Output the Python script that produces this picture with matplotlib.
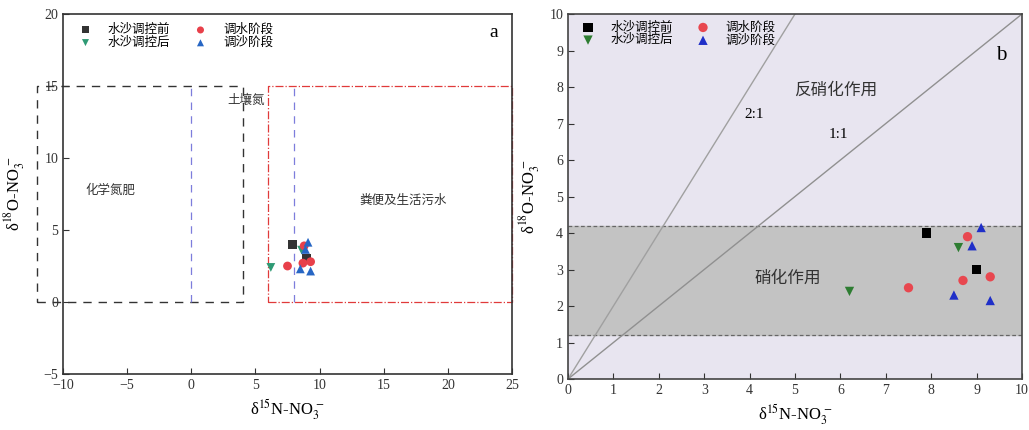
import numpy as np
import matplotlib
matplotlib.use("Agg")
from matplotlib import pyplot as plt

plt.rcParams['font.family'] = ['Liberation Serif', 'Noto Sans CJK SC', 'DejaVu Sans']
plt.rcParams['mathtext.fontset'] = 'stix'

# data: delta15N-NO3 (x) and delta18O-NO3 (y) per stage
groups = ['水沙调控前', '水沙调控后', '调水阶段', '调沙阶段']
n15_before = [7.9, 9.0]
o18_before = [4.0, 3.0]
n15_after = [6.2, 8.6]
o18_after = [2.4, 3.6]
n15_water = [7.5, 8.7, 9.3, 8.8]
o18_water = [2.5, 2.7, 2.8, 3.9]
n15_sand = [9.1, 8.9, 8.5, 9.3]
o18_sand = [4.15, 3.65, 2.3, 2.15]

series_x = [n15_before, n15_after, n15_water, n15_sand]
series_y = [o18_before, o18_after, o18_water, o18_sand]
markers = ['s', 'v', 'o', '^']
colors_a = ['#333333', '#2e9a74', '#e8404a', '#2766c4']
colors_b = ['#000000', '#2e7d32', '#e8474f', '#1f2fc8']

xlab = 'δ$^{15}$N-NO$_3^{\\,-}$'
ylab = 'δ$^{18}$O-NO$_3^{\\,-}$'

fig = plt.figure(figsize=(10.29, 4.30), dpi=100)
axa = fig.add_axes([0.0612, 0.1302, 0.4364, 0.8372])
axb = fig.add_axes([0.552, 0.1186, 0.4412, 0.8488])

# ---------- panel a ----------
# source boxes
axa.plot([-12, 4, 4, -12, -12], [0, 0, 15, 15, 0], ls=(0, (6, 5)), color='#333333', lw=1.0, clip_on=False)
axa.plot([0, 0], [0, 15], ls=(0, (6, 5)), color='#7d7ddc', lw=0.9)
axa.plot([8, 8], [0, 15], ls=(0, (6, 5)), color='#7d7ddc', lw=0.9)
axa.plot([6, 25, 25, 6, 6], [0, 0, 15, 15, 0], ls='-.', color='#e03a3a', lw=0.9, clip_on=False)
for x, y, c, m, g in zip(series_x, series_y, colors_a, markers, groups):
    axa.scatter(x, y, marker=m, s=40, color=c, label=g, zorder=5, edgecolors='none')
axa.text(-6.3, 7.7, '化学氮肥', fontsize=9, ha='center', va='center', color='#333333')
axa.text(4.3, 14.0, '土壤氮', fontsize=9, ha='center', va='center', color='#333333')
axa.text(16.5, 7.0, '粪便及生活污水', fontsize=9, ha='center', va='center', color='#333333')
axa.text(23.6, 18.7, 'a', fontsize=14, ha='center', va='center')
axa.set_xlim(-10, 25)
axa.set_ylim(-5, 20)
axa.set_xticks(np.arange(-10, 26, 5))
axa.set_yticks(np.arange(-5, 21, 5))
axa.set_xticklabels(['−10', '−5', '0', '5', '10', '15', '20', '25'])
axa.set_yticklabels(['−5', '0', '5', '10', '15', '20'])
axa.tick_params(direction='in', labelsize=10, length=4, colors='#333333')
axa.set_xlabel(xlab, fontsize=12, labelpad=4)
axa.set_ylabel(ylab, fontsize=12, labelpad=12)
axa.legend(loc='upper left', ncol=2, frameon=False, fontsize=9, handletextpad=0.8,
           columnspacing=1.4, labelspacing=0.05, borderaxespad=0.4, markerscale=0.8)
for s in axa.spines.values():
    s.set_color('#333333')
    s.set_linewidth(1.2)

# ---------- panel b ----------
axb.set_facecolor('#e8e5f0')
axb.axhspan(1.2, 4.2, color='#c3c3c3', zorder=0)
axb.axhline(4.2, ls=(0, (3, 2)), color='#666666', lw=0.9, zorder=1)
axb.axhline(1.2, ls=(0, (3, 2)), color='#666666', lw=0.9, zorder=1)
xs = np.array([0, 10])
axb.plot(xs, 2 * xs, color='#a0a0a0', lw=1.0, zorder=2)
axb.plot(xs, xs, color='#909090', lw=1.0, zorder=2)
for x, y, c, m, g in zip(series_x, series_y, colors_b, markers, groups):
    axb.scatter(x, y, marker=m, s=45, color=c, label=g, zorder=5, edgecolors='none')
axb.text(4.1, 7.25, '2:1', fontsize=11, ha='center', va='center')
axb.text(5.95, 6.7, '1:1', fontsize=11, ha='center', va='center')
axb.text(5.9, 7.9, '反硝化作用', fontsize=12, ha='center', va='center', color='#333333')
axb.text(4.85, 2.75, '硝化作用', fontsize=12, ha='center', va='center', color='#333333')
axb.text(9.55, 8.85, 'b', fontsize=15, ha='center', va='center')
axb.set_xlim(0, 10)
axb.set_ylim(0, 10)
axb.set_xticks(np.arange(0, 11, 1))
axb.set_yticks(np.arange(0, 11, 1))
axb.tick_params(direction='in', labelsize=10, length=4, colors='#333333')
axb.set_xlabel(xlab, fontsize=12, labelpad=4)
axb.set_ylabel(ylab, fontsize=12, labelpad=5)
axb.legend(loc='upper left', ncol=2, frameon=False, fontsize=9, handletextpad=0.8,
           columnspacing=1.4, labelspacing=0.05, borderaxespad=0.2)
for s in axb.spines.values():
    s.set_color('#444444')
    s.set_linewidth(1.2)

fig.savefig("out.png", dpi=100)
